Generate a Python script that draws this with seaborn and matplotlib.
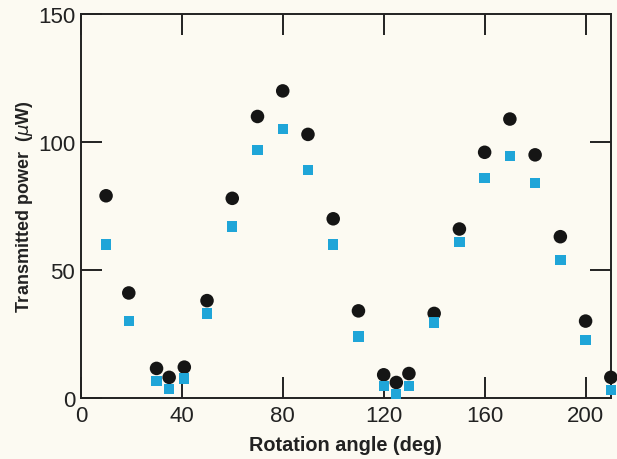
import numpy as np
import pandas as pd
import matplotlib
matplotlib.use('Agg')
import matplotlib.pyplot as plt
import seaborn as sns

# ── Data ───────────────────────────────────────────────────────────────
angle = [10, 19, 30, 35, 41, 50, 60, 70, 80, 90, 100, 110, 120, 125, 130,
         140, 150, 160, 170, 180, 190, 200, 210]
power_black = [79, 41, 11.5, 8, 12, 38, 78, 110, 120, 103, 70, 34, 9, 6, 9.5,
               33, 66, 96, 109, 95, 63, 30, 8]
power_blue = [60, 30, 6.5, 3.5, 7.5, 33, 67, 97, 105, 89, 60, 24, 4.5, 1.5, 4.5,
              29.5, 61, 86, 94.5, 84, 54, 22.5, 3]

df_black = pd.DataFrame({'angle': angle, 'power': power_black})
df_blue = pd.DataFrame({'angle': angle, 'power': power_blue})

sns.set_style('ticks')
plt.rcParams['font.family'] = ['Liberation Sans', 'DejaVu Sans']
plt.rcParams['mathtext.fontset'] = 'dejavusans'

bg = '#fcfaf2'
fig = plt.figure(figsize=(6.17, 4.60), dpi=100, facecolor=bg)
ax = fig.add_axes([0.131, 0.133, 0.859, 0.834], facecolor=bg)

sns.scatterplot(data=df_black, x='angle', y='power', ax=ax, marker='o',
                s=95, color='#151515', edgecolor='none', clip_on=False, zorder=3)
sns.scatterplot(data=df_blue, x='angle', y='power', ax=ax, marker='s',
                s=55, color='#1fa5d8', edgecolor='none', clip_on=False, zorder=4)

ax.set_xlim(0, 210)
ax.set_ylim(0, 150)
ax.set_xticks([0, 40, 80, 120, 160, 200])
ax.set_yticks([0, 50, 100, 150])

ax.tick_params(direction='in', length=15, width=1.4, labelsize=16,
               top=True, right=True, colors='#222222')
ax.tick_params(axis='x', pad=5)
ax.tick_params(axis='y', pad=4)
for s in ax.spines.values():
    s.set_linewidth(1.4)
    s.set_color('#222222')

ax.set_xlabel('Rotation angle (deg)', fontsize=14.3, fontweight='bold',
              color='#222222', labelpad=7)
ax.set_ylabel(r'Transmitted power  ($\mu$W)', fontsize=13, fontweight='bold',
              color='#222222', labelpad=2)

plt.savefig('out.png', dpi=100, facecolor=bg)
